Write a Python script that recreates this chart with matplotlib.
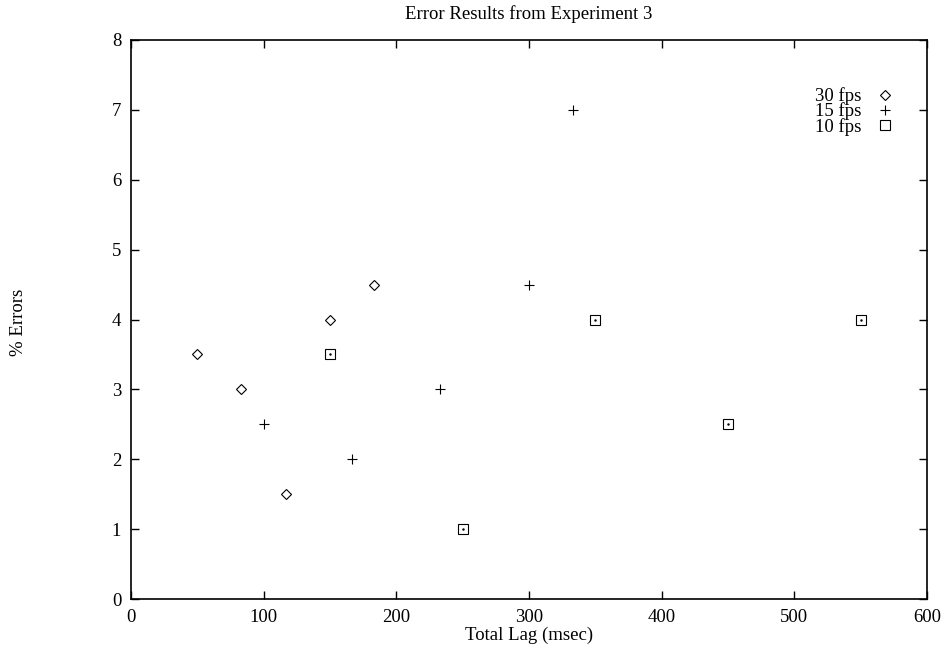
import matplotlib
matplotlib.use('Agg')
import matplotlib.pyplot as plt

plt.rcParams['font.family'] = ['Liberation Serif', 'DejaVu Serif']

# data
lag_30 = [50, 83.3, 116.7, 150, 183.3]
err_30 = [3.5, 3, 1.5, 4, 4.5]
lag_15 = [100, 166.7, 233.3, 300, 333.3]
err_15 = [2.5, 2, 3, 4.5, 7]
lag_10 = [150, 250, 350, 450, 550]
err_10 = [3.5, 1, 4, 2.5, 4]

fig = plt.figure(figsize=(9.41, 6.45), dpi=100)
ax = fig.add_axes([0.1392, 0.0713, 0.8459, 0.8667])

ax.plot(lag_30, err_30, linestyle='none', marker='D', markersize=5,
        markerfacecolor='none', markeredgecolor='black', markeredgewidth=0.8, label='30 fps')
ax.plot(lag_15, err_15, linestyle='none', marker='+', markersize=7,
        color='black', markeredgewidth=0.8, label='15 fps')
ax.plot(lag_10, err_10, linestyle='none', marker='s', markersize=7,
        markerfacecolor='none', markeredgecolor='black', markeredgewidth=0.8, label='10 fps')
# gnuplot draws a dot in the middle of each square
ax.plot(lag_10, err_10, linestyle='none', marker='.', markersize=1.5, color='black')

ax.set_xlim(0, 600)
ax.set_ylim(0, 8)
ax.set_xticks(range(0, 700, 100))
ax.set_yticks(range(0, 9))
ax.tick_params(direction='in', top=True, right=True, length=6, width=1, labelsize=13.5, pad=7)
for s in ax.spines.values():
    s.set_linewidth(1.2)

ax.set_title('Error Results from Experiment 3', fontsize=13.5, pad=15)
ax.set_xlabel('Total Lag (msec)', fontsize=13.5, labelpad=1)
fig.text(0.02, 0.5, '% Errors', rotation=90, fontsize=13.5, va='center', ha='center')

leg = ax.legend(loc='upper right', bbox_to_anchor=(0.9585, 0.915), markerfirst=False,
                frameon=False, fontsize=13.5, handletextpad=0.75, labelspacing=-0.15,
                borderaxespad=0, borderpad=0, handlelength=1.0)

plt.savefig('out.png', dpi=100)
